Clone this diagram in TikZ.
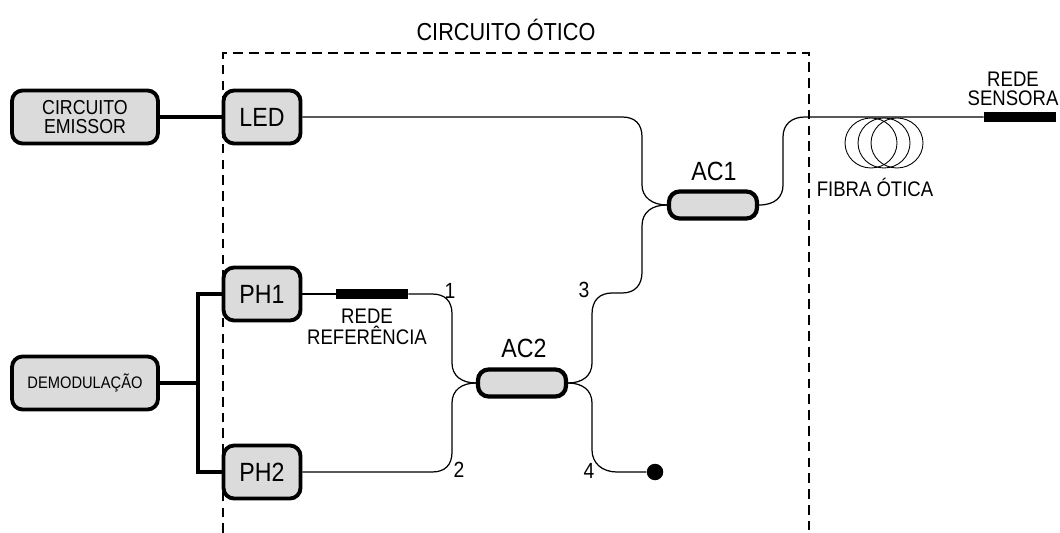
\documentclass[tikz,border=0pt]{standalone}
\usepackage{fontspec}
\usetikzlibrary{shapes.geometric}
\setmainfont[FakeStretch=0.88]{Liberation Sans}
\newcommand{\fsz}[1]{\fontsize{#1}{#1}\selectfont}

\begin{document}
\begin{tikzpicture}[
    x=0.02cm, y=-0.02cm,
    box/.style={draw, line width=2.2pt, rounded corners=6pt, inner sep=0pt,
                minimum height=1.06cm, align=center, fill=black!14},
    smallbox/.style={box, minimum width=2.92cm, font=\fsz{11.5}},
    optbox/.style={box, minimum width=1.54cm, font=\fsz{15}},
    coupler/.style={draw, line width=2.4pt, rounded corners=6pt, minimum width=1.76cm,
                minimum height=0.54cm, inner sep=0pt, fill=black!14},
    rede/.style={fill=black, inner sep=0pt, minimum width=1.44cm, minimum height=0.19cm},
    wire/.style={line width=0.7pt},
    bus/.style={line width=2pt},
    lbl/.style={align=center, inner sep=0pt, font=\fsz{12}},
    num/.style={inner sep=0pt, font=\fsz{12.5}}
  ]
  \useasboundingbox (0,0) rectangle (1060,533);

  % Dashed outline
  \coordinate (bl) at (223,533);
  \coordinate (tl) at (223,53);
  \coordinate (tr) at (809,53);
  \coordinate (br) at (809,533);
  \draw[line width=0.6pt, dash pattern=on 5.5pt off 3.5pt] (bl) -- (tl) -- (tr) -- (br);

  % Nodes
  \node[smallbox] (emissor) at (85,117)  {CIRCUITO\\[-1pt]EMISSOR};
  \node[smallbox, font=\fsz{9.5}] (demod) at (85,383) {DEMODULAÇÃO};
  \node[optbox] (led) at (262,117) {LED};
  \node[optbox] (ph1) at (262,294) {PH1};
  \node[optbox] (ph2) at (262,472) {PH2};
  \node[coupler] (ac1) at (713,205) {};
  \node[coupler] (ac2) at (522,383) {};
  \node[rede] (refbar)  at (372,294) {};
  \node[rede] (sensbar) at (1020,117) {};
  \node[circle, fill=black, inner sep=0pt, minimum size=0.33cm] (dot) at (655,472) {};

  % Arrows
  \draw[bus, line width=2.6pt] (emissor) -- (led);
  \coordinate (junc) at (198,383);
  \draw[bus] (demod) -- (junc);
  \draw[bus] (ph1.west) -- (198,294) -- (198,472) -- (ph2.west);
  \draw[wire] (led.east) -- (622,117) .. controls (635,117) and (642,124) .. (642,137)
    -- (642,185) .. controls (642,197) and (652,205) .. (ac1.west);
  \draw[wire] (ac1.west) .. controls (652,205) and (642,212) .. (642,226)
    -- (642,272) .. controls (642,285) and (635,293) .. (622,293)
    -- (612,293) .. controls (600,293) and (592,300) .. (592,314)
    -- (592,363) .. controls (592,376) and (582,383) .. (ac2.east);
  \draw[wire] (ac2.east) .. controls (582,383) and (592,390) .. (592,403)
    -- (592,450) .. controls (592,463) and (602,472) .. (617,472) -- (dot);
  \draw[wire] (ph1.east) -- (refbar);
  \draw[wire] (refbar) -- (432,294) .. controls (445,294) and (452,301) .. (452,314)
    -- (452,363) .. controls (452,376) and (462,383) .. (ac2.west);
  \draw[wire] (ph2.east) -- (432,472) .. controls (445,472) and (452,465) .. (452,452)
    -- (452,403) .. controls (452,390) and (462,383) .. (ac2.west);
  \draw[wire] (ac1.east) .. controls (775,205) and (783,197) .. (783,185)
    -- (783,137) .. controls (783,124) and (792,117) .. (805,117) -- (sensbar);

  % Fibre loops
  \foreach \cx/\nm in {871/a, 884/b, 897/c}
    \node[draw, ellipse, line width=0.5pt, minimum width=1.04cm, minimum height=1cm, inner sep=0pt]
      (loop\nm) at (\cx,143) {};

  % Labels
  \node[lbl, font=\fsz{14}] (title) at (506,30) {CIRCUITO ÓTICO};
  \node[lbl, font=\fsz{15}] (lac1) at (714,171) {AC1};
  \node[lbl, font=\fsz{15}] (lac2) at (524,348) {AC2};
  \node[lbl] (lfib) at (875,187) {FIBRA ÓTICA};
  \node[lbl, font=\fsz{12}] (lsens) at (1013,89) {REDE\\[-1pt]SENSORA};
  \node[lbl] (lref) at (367,327) {REDE\\[0pt]REFERÊNCIA};
  \node[num] (n1) at (450,291) {1};
  \node[num] (n2) at (459,470) {2};
  \node[num] (n3) at (584,290) {3};
  \node[num] (n4) at (589,471) {4};
\end{tikzpicture}
\end{document}
